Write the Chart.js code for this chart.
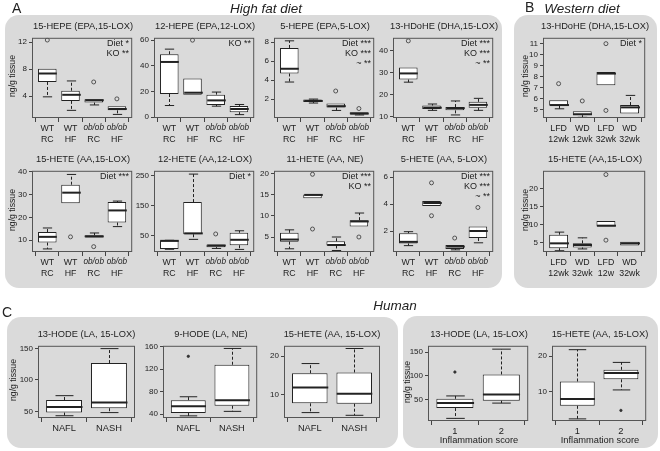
<!DOCTYPE html>
<html>
<head>
<meta charset="utf-8">
<script src="https://cdn.jsdelivr.net/npm/chart.js@4.4.1/dist/chart.umd.min.js"></script>
<style>
body { margin:0; background:#fff; width:660px; height:451px; position:relative; overflow:hidden;
       font-family:"Liberation Sans", Arial, sans-serif; color:#222 }
.pane { position:absolute; background:#dadada; border-radius:14px }
.txt { position:absolute; white-space:nowrap; line-height:1 }
canvas { position:absolute }
</style>
</head>
<body>
<div class="pane" style="left:5px;top:15px;width:497px;height:273px"></div>
<div class="pane" style="left:514px;top:15px;width:143px;height:273px"></div>
<div class="pane" style="left:7px;top:317px;width:391px;height:131px"></div>
<div class="pane" style="left:403px;top:316px;width:255px;height:132px"></div>
<script>
// categories
const hfdGroups = ['WT', 'WT', 'ob/ob', 'ob/ob']
const hfdDiets = ['RC', 'HF', 'RC', 'HF']
const wdGroups = ['LFD', 'WD', 'LFD', 'WD']
const wdWeeksTop = ['12wk', '12wk', '32wk', '32wk']
const wdWeeksBottom = ['12wk', '32wk', '12w', '32wk']
const humanGroups = ['NAFL', 'NASH']
const scoreGroups = ['1', '2']

// box stats per group: [low whisker, Q1, median, Q3, high whisker]; outliers: [group, value]
const hepe15 = [[3.9, 6.1, 7.35, 8.05, 8.05], [1.9, 3.3, 4.2, 4.8, 6.25], [2.7, 3.05, 3.4, 3.55, 3.55], [1.3, 1.9, 2.1, 2.5, 2.5]]
const hepe15Out = [[1, 12.3], [3, 6.1], [4, 3.6]]
const hepe12 = [[9, 18, 43, 49, 53], [17.5, 17.5, 19, 30, 30], [8.5, 9.5, 13, 17.5, 19.5], [1.9, 3.8, 6.3, 8.7, 9.8]]
const hepe12Out = [[2, 60]]
const hepe5 = [[3.8, 4.7, 5.2, 7.4, 8.15], [1.58, 1.68, 1.8, 1.95, 2.0], [0.8, 1.1, 1.25, 1.53, 1.53], [0.32, 0.37, 0.47, 0.62, 0.62]]
const hepe5Out = [[3, 2.85], [4, 1.0]]
const hdohe13 = [[25.7, 26.9, 29.7, 32.4, 32.4], [12.8, 13.4, 14, 15, 15.7], [10.7, 12.8, 13.8, 14.3, 17.1], [12.8, 14, 15.3, 16.7, 18.3]]
const hdohe13Out = [[1, 44.6]]
const hete15 = [[6.2, 9, 11.5, 13.6, 15.4], [26.2, 26.2, 30.9, 34.4, 38.9], [11.2, 11.2, 11.7, 12.2, 13.2], [16, 17.8, 23.1, 26.8, 27.2]]
const hete15Out = [[2, 11.5], [3, 7.2]]
const hete12 = [[5, 5.6, 33, 34.5, 35], [38, 55, 58, 162, 255], [7.8, 12.2, 17.4, 20.6, 20.6], [4.6, 18.6, 36.6, 60, 66.6]]
const hete12Out = [[3, 56]]
const hete11 = [[2.2, 3.9, 4.4, 6.0, 6.7], [14.2, 14.2, 15.0, 15.1, 15.1], [1.8, 3.0, 3.1, 4.0, 5.0], [7.5, 7.5, 8.7, 9.0, 10.7]]
const hete11Out = [[2, 19.9], [2, 6.9], [4, 5.0]]
const hete5 = [[0.94, 1.1, 1.22, 1.86, 1.97], [3.86, 3.86, 4.09, 4.23, 4.23], [0.63, 0.7, 0.87, 0.98, 0.98], [1.15, 1.5, 2.02, 2.35, 2.35]]
const hete5Out = [[2, 5.58], [2, 3.15], [3, 1.5], [4, 3.76]]
const wdHdohe13 = [[5.09, 5.37, 5.43, 5.86, 5.86], [4.32, 4.52, 4.6, 4.86, 4.86], [7.22, 7.22, 8.27, 8.41, 8.41], [4.66, 4.66, 5.22, 5.43, 6.3]]
const wdHdohe13Out = [[1, 7.36], [2, 5.8], [3, 10.97], [3, 4.94]]
const wdHete15 = [[2.7, 3.4, 4.76, 7.18, 7.9], [3.2, 3.6, 4.3, 4.76, 6.3], [9.5, 9.5, 9.7, 11.0, 11.0], [4.14, 4.14, 4.76, 5.2, 5.2]]
const wdHete15Out = [[3, 24.0], [3, 5.65]]
const hode13 = [[43, 48, 57, 68, 75], [48, 55, 64, 127, 150]]
const hode9 = [[37, 42, 54, 65, 71], [45, 55, 65, 128, 157]]
const hode9Out = [[1, 143]]
const hete15h = [[5.4, 7.8, 11.9, 15.6, 18.1], [4.7, 7.7, 10.3, 15.8, 22]]
const hode13s = [[11, 32.6, 43, 52, 58], [43, 48, 61, 103, 156]]
const hode13sOut = [[1, 108]]
const hete15s = [[2.2, 5.9, 7.8, 12.8, 21.8], [10.4, 13.4, 15.2, 16.1, 18.2]]
const hete15sOut = [[2, 4.6]]

// y axis ranges and tick labels
const hepe15Lim = [0.77, 12.63], hepe15Ticks = [4, 8, 12]
const hepe12Lim = [-0.74, 61.85], hepe12Ticks = [0, 20, 40, 60]
const hepe5Lim = [0.0, 8.47], hepe5Ticks = [2, 4, 6, 8]
const hdohe13Lim = [9.3, 46.0], hdohe13Ticks = [10, 20, 30, 40]
const hete15Lim = [4.85, 40.5], hete15Ticks = [10, 20, 30, 40]
const hete12Lim = [-4, 266], hete12Ticks = [50, 150, 250]
const hete11Lim = [1.44, 20.73], hete11Ticks = [5, 10, 15, 20]
const hete5Lim = [0.47, 6.47], hete5Ticks = [2, 4, 6]
const wdHdohe13Lim = [4.26, 11.5], wdHdohe13Ticks = [5, 6, 7, 8, 9, 10, 11]
const wdHete15Lim = [2.34, 25.05], wdHete15Ticks = [5, 10, 15, 20]
const hode13Lim = [39.4, 154.5], hode13Ticks = [50, 100, 150]
const hode9Lim = [33.2, 161.7], hode9Ticks = [40, 80, 120, 160]
const hete15hLim = [4.0, 22.7], hete15hTicks = [10, 20]
const hode13sLim = [5.5, 163], hode13sTicks = [50, 100, 150]
const hete15sLim = [1.6, 22.9], hete15sTicks = [10, 20]

const FONT = '"Liberation Sans", Arial, sans-serif'
Chart.defaults.font.family = FONT

// layout: box = plot frame [left, top, right, bottom]
const panels = [
    { title: '15-HEPE (EPA,15-LOX)', stats: hepe15, out: hepe15Out, ylim: hepe15Lim, yticks: hepe15Ticks, cats: hfdGroups, cats2: hfdDiets, notes: ['Diet *', 'KO **'], box: [32, 34, 134, 118], ytitle: 12 },
    { title: '12-HEPE (EPA,12-LOX)', stats: hepe12, out: hepe12Out, ylim: hepe12Lim, yticks: hepe12Ticks, cats: hfdGroups, cats2: hfdDiets, notes: ['KO **'], box: [154, 34, 256, 118] },
    { title: '5-HEPE (EPA,5-LOX)', stats: hepe5, out: hepe5Out, ylim: hepe5Lim, yticks: hepe5Ticks, cats: hfdGroups, cats2: hfdDiets, notes: ['Diet ***', 'KO ***', '~ **'], box: [274, 34, 376, 118] },
    { title: '13-HDoHE (DHA,15-LOX)', stats: hdohe13, out: hdohe13Out, ylim: hdohe13Lim, yticks: hdohe13Ticks, cats: hfdGroups, cats2: hfdDiets, notes: ['Diet ***', 'KO ***', '~ **'], box: [393, 34, 495, 118] },
    { title: '15-HETE (AA,15-LOX)', stats: hete15, out: hete15Out, ylim: hete15Lim, yticks: hete15Ticks, cats: hfdGroups, cats2: hfdDiets, notes: ['Diet ***'], box: [32, 167, 134, 252], ytitle: 12 },
    { title: '12-HETE (AA,12-LOX)', stats: hete12, out: hete12Out, ylim: hete12Lim, yticks: hete12Ticks, cats: hfdGroups, cats2: hfdDiets, notes: ['Diet *'], box: [154, 167, 256, 252] },
    { title: '11-HETE (AA, NE)', stats: hete11, out: hete11Out, ylim: hete11Lim, yticks: hete11Ticks, cats: hfdGroups, cats2: hfdDiets, notes: ['Diet ***', 'KO **'], box: [274, 167, 376, 252] },
    { title: '5-HETE (AA, 5-LOX)', stats: hete5, out: hete5Out, ylim: hete5Lim, yticks: hete5Ticks, cats: hfdGroups, cats2: hfdDiets, notes: ['Diet ***', 'KO ***', '~ **'], box: [393, 167, 495, 252] },
    { title: '13-HDoHE (DHA,15-LOX)', stats: wdHdohe13, out: wdHdohe13Out, ylim: wdHdohe13Lim, yticks: wdHdohe13Ticks, cats: wdGroups, cats2: wdWeeksTop, notes: ['Diet *'], box: [543, 34, 647, 118], ytitle: 525 },
    { title: '15-HETE (AA,15-LOX)', stats: wdHete15, out: wdHete15Out, ylim: wdHete15Lim, yticks: wdHete15Ticks, cats: wdGroups, cats2: wdWeeksBottom, notes: [], box: [543, 167, 647, 252], ytitle: 525 },
    { title: '13-HODE (LA, 15-LOX)', stats: hode13, out: [], ylim: hode13Lim, yticks: hode13Ticks, cats: humanGroups, notes: [], box: [38, 342, 135, 418], ytitle: 13, dots: true },
    { title: '9-HODE (LA, NE)', stats: hode9, out: hode9Out, ylim: hode9Lim, yticks: hode9Ticks, cats: humanGroups, notes: [], box: [163, 342, 259, 418], dots: true },
    { title: '15-HETE (AA, 15-LOX)', stats: hete15h, out: [], ylim: hete15hLim, yticks: hete15hTicks, cats: humanGroups, notes: [], box: [284, 342, 380, 418], dots: true },
    { title: '13-HODE (LA, 15-LOX)', stats: hode13s, out: hode13sOut, ylim: hode13sLim, yticks: hode13sTicks, cats: scoreGroups, notes: [], box: [428, 342, 530, 421], ytitle: 407, dots: true, xtitle: 'Inflammation score' },
    { title: '15-HETE (AA, 15-LOX)', stats: hete15s, out: hete15sOut, ylim: hete15sLim, yticks: hete15sTicks, cats: scoreGroups, notes: [], box: [552, 342, 648, 421], dots: true, xtitle: 'Inflammation score' }
]

function put(text, x, y, css, anchor) {
    let d = document.createElement('div')
    d.className = 'txt'
    d.textContent = text
    d.style.left = x + 'px'
    d.style.top = y + 'px'
    let tr = anchor === 'right' ? 'translate(-100%,-50%)' : anchor === 'left' ? 'translate(0,-50%)' : 'translate(-50%,-50%)'
    if (css.rotate) tr += ' rotate(-90deg)'
    d.style.transform = tr
    d.style.fontSize = (css.size || 10) + 'px'
    if (css.italic) d.style.fontStyle = 'italic'
    document.body.appendChild(d)
}

function line(ctx, x1, y1, x2, y2) {
    ctx.beginPath()
    ctx.moveTo(x1, y1)
    ctx.lineTo(x2, y2)
    ctx.stroke()
}

function boxChart(p) {
    let n = p.stats.length
    let yw = 26, padT = 3, padR = 3, padB = 2
    let xh = p.cats2 ? 15 : 18, x2h = p.cats2 ? 14 : 0
    let [l, t, r, b] = p.box
    let cv = document.createElement('canvas')
    cv.width = yw + (r - l) + padR
    cv.height = padT + (b - t) + xh + x2h + padB
    cv.style.left = (l - yw) + 'px'
    cv.style.top = (t - padT) + 'px'
    document.body.appendChild(cv)

    let xmin = 0.5 - 0.04 * n, xmax = n + 0.5 + 0.04 * n
    let tickFont = p.cats.length > 2 ? 8.8 : 9.3

    let scales = {
        x: {
            type: 'linear', min: xmin, max: xmax, offset: false,
            afterBuildTicks: s => { s.ticks = p.cats.map((c, i) => ({ value: i + 1 })) },
            afterFit: s => { s.height = xh },
            grid: { drawOnChartArea: false, tickLength: 4, color: '#444', tickColor: '#444' },
            border: { display: false },
            ticks: {
                autoSkip: false, maxRotation: 0, padding: 1, color: '#222',
                font: c => p.cats[c.index] === 'ob/ob'
                    ? { size: 8.2, family: FONT, style: 'italic' }
                    : { size: tickFont, family: FONT, style: 'normal' },
                callback: (v, i) => p.cats[i]
            }
        },
        y: {
            type: 'linear', min: p.ylim[0], max: p.ylim[1],
            afterBuildTicks: s => { s.ticks = p.yticks.map(v => ({ value: v })) },
            afterFit: s => { s.width = yw },
            grid: { drawOnChartArea: false, tickLength: 3, color: '#444', tickColor: '#444' },
            border: { display: false },
            ticks: { padding: 2, color: '#222', font: { size: 8 }, callback: v => String(v) }
        }
    }
    if (p.cats2) {
        scales.x2 = {
            type: 'linear', position: 'bottom', min: xmin, max: xmax, offset: false,
            afterBuildTicks: s => { s.ticks = p.cats2.map((c, i) => ({ value: i + 1 })) },
            afterFit: s => { s.height = x2h },
            grid: { display: false, drawTicks: false, tickLength: 0 },
            border: { display: false },
            ticks: { autoSkip: false, maxRotation: 0, padding: 1.5, color: '#222', font: { size: tickFont }, callback: (v, i) => p.cats2[i] }
        }
    }

    let parts = {
        id: 'boxParts',
        afterDatasetsDraw(chart) {
            let ctx = chart.ctx
            let a = chart.chartArea
            let xs = chart.scales.x, ys = chart.scales.y
            let half = xs.getPixelForValue(1.4) - xs.getPixelForValue(1)
            ctx.save()
            ctx.strokeStyle = '#222'
            p.stats.forEach((s, i) => {
                let cx = Math.round(xs.getPixelForValue(i + 1)) + 0.5
                ctx.lineWidth = 1
                ctx.setLineDash([3, 2])
                if (s[0] < s[1]) line(ctx, cx, ys.getPixelForValue(s[1]), cx, ys.getPixelForValue(s[0]))
                if (s[4] > s[3]) line(ctx, cx, ys.getPixelForValue(s[3]), cx, ys.getPixelForValue(s[4]))
                ctx.setLineDash([])
                if (s[0] < s[1]) line(ctx, cx - half / 2, ys.getPixelForValue(s[0]), cx + half / 2, ys.getPixelForValue(s[0]))
                if (s[4] > s[3]) line(ctx, cx - half / 2, ys.getPixelForValue(s[4]), cx + half / 2, ys.getPixelForValue(s[4]))
                ctx.lineWidth = 2
                line(ctx, cx - half, ys.getPixelForValue(s[2]), cx + half, ys.getPixelForValue(s[2]))
            })
            ctx.lineWidth = 1
            ctx.strokeStyle = '#555'
            ctx.strokeRect(a.left + 0.5, a.top + 0.5, a.right - a.left - 1, a.bottom - a.top - 1)
            ctx.restore()
        }
    }

    new Chart(cv, {
        type: 'bar',
        data: {
            datasets: [
                {
                    type: 'bar',
                    data: p.stats.map((s, i) => ({ x: i + 1, y: [s[1], s[3]] })),
                    backgroundColor: '#fff', borderColor: '#222', borderWidth: 1, borderSkipped: false,
                    categoryPercentage: 1, barPercentage: 0.8, grouped: false
                },
                {
                    type: 'scatter',
                    data: p.out.map(o => ({ x: o[0], y: o[1] })),
                    pointStyle: 'circle',
                    pointRadius: p.dots ? 1.2 : 2,
                    pointBorderWidth: 0.8,
                    pointBorderColor: '#333',
                    pointBackgroundColor: p.dots ? '#333' : 'rgba(0,0,0,0)'
                }
            ]
        },
        options: {
            responsive: false, animation: false, events: [],
            layout: { padding: { top: padT, right: padR, left: 0, bottom: padB } },
            plugins: { legend: { display: false }, tooltip: { enabled: false } },
            scales: scales
        },
        plugins: [parts]
    })

    let cx = (l + r) / 2
    put(p.title, cx, t - 7, { size: 9.3 })
    p.notes.forEach((s, i) => put(s, r - 5, t + 9 + i * 9.8, { size: 9 }, 'right'))
    if (p.ytitle) put('ng/g tissue', p.ytitle, (t + b) / 2, { size: 8.7, rotate: true })
    if (p.xtitle) put(p.xtitle, cx, b + 20, { size: 9.3 })
}

panels.forEach(boxChart)

put('A', 12, 8, { size: 14 }, 'left')
put('High fat diet', 266, 9, { size: 13.5, italic: true })
put('B', 525, 7, { size: 14 }, 'left')
put('Western diet', 582, 9, { size: 13.5, italic: true })
put('C', 2, 312, { size: 14 }, 'left')
put('Human', 395, 306, { size: 13.5, italic: true })
</script>
</body>
</html>
